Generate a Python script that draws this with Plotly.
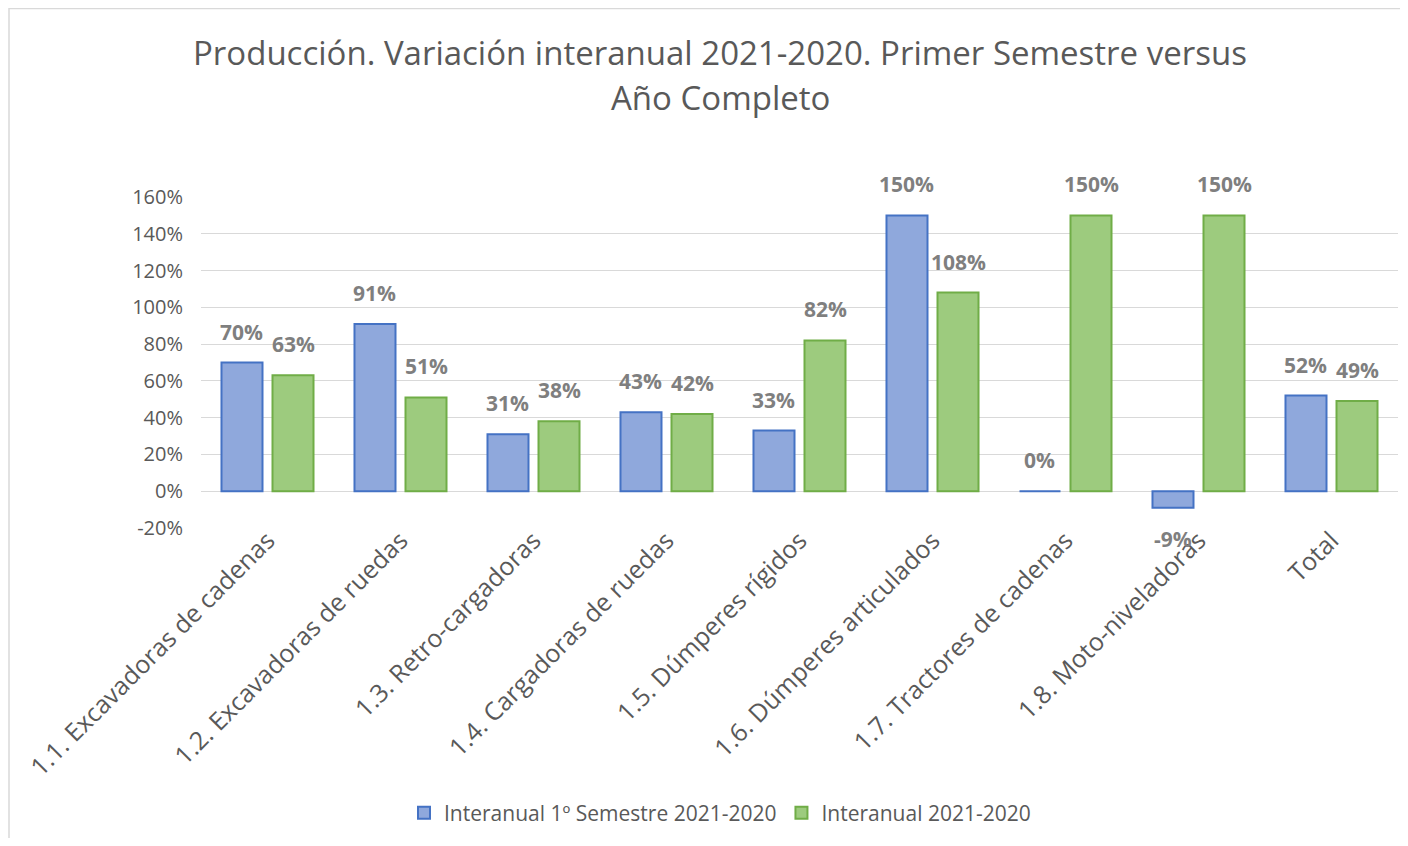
import plotly.graph_objects as go

categories = [
    "1.1. Excavadoras de cadenas",
    "1.2. Excavadoras de ruedas",
    "1.3. Retro-cargadoras",
    "1.4. Cargadoras de ruedas",
    "1.5. Dúmperes rígidos",
    "1.6. Dúmperes articulados",
    "1.7. Tractores de cadenas",
    "1.8. Moto-niveladoras",
    "Total",
]
semestre = [70, 91, 31, 43, 33, 150, 0, -9, 52]
anual = [63, 51, 38, 42, 82, 108, 150, 150, 49]
tick_vals = [-20, 0, 20, 40, 60, 80, 100, 120, 140, 160]
tick_text = [f"{v}%" for v in tick_vals]

FONT = "Open Sans, sans-serif"
GREY = "#595959"
LABEL_GREY = "#7F7F7F"

# page has an 8px body margin, so the figure is 16px smaller than the window
W, H = 1392, 830
L, T, R, B = 193, 189, 2, 310
pw, ph = W - L - R, H - T - B


def px_x(x):
    return (x - L) / pw


def px_y(y):
    return (H - B - y) / ph


fig = go.Figure()
fig.add_trace(go.Bar(
    x=categories, y=semestre, name="Interanual 1º Semestre 2021-2020",
    marker=dict(color="#8FA8DC", line=dict(color="#4472C4", width=2)),
))
fig.add_trace(go.Bar(
    x=categories, y=anual, name="Interanual 2021-2020",
    marker=dict(color="#9DCB7E", line=dict(color="#70AD47", width=2)),
))

bargap = 0.233
slot_px = pw / len(categories) * (1 - bargap) / 2

# data labels, placed like Excel's (a bit further from the bar end)
labels = []
for values, shift in ((semestre, -slot_px / 2), (anual, slot_px / 2)):
    for cat, v in zip(categories, values):
        labels.append(dict(
            x=cat, y=v, text=f"{v}%", showarrow=False,
            xshift=shift, yshift=15 if v >= 0 else -15,
            yanchor="bottom" if v >= 0 else "top",
            font=dict(family=FONT, size=21, color=LABEL_GREY, weight="bold"),
        ))

title_x = px_x(712)
labels += [
    dict(text="Producción. Variación interanual 2021-2020. Primer Semestre versus",
         xref="paper", yref="paper", x=title_x, y=px_y(44),
         xanchor="center", yanchor="middle", showarrow=False,
         font=dict(size=33, color=GREY, family=FONT)),
    dict(text="Año Completo",
         xref="paper", yref="paper", x=title_x, y=px_y(90),
         xanchor="center", yanchor="middle", showarrow=False,
         font=dict(size=33, color=GREY, family=FONT)),
]

fig.update_layout(
    width=W, height=H,
    margin=dict(l=L, r=R, t=T, b=B),
    paper_bgcolor="white", plot_bgcolor="white",
    font=dict(family=FONT, color=GREY),
    barmode="group", bargap=bargap, bargroupgap=0.196,
    showlegend=True,
    legend=dict(
        orientation="h", x=px_x(712), xanchor="center", y=px_y(805), yanchor="middle",
        font=dict(size=21, color=GREY), traceorder="normal",
    ),
    annotations=labels,
    shapes=[
        dict(type="rect", xref="paper", yref="paper",
             x0=px_x(1), x1=px_x(1420), y0=px_y(900), y1=px_y(0.5),
             line=dict(color="#D9D9D9", width=1.5), layer="below"),
    ],
)
fig.update_yaxes(
    range=[-20, 160], tickvals=tick_vals, ticktext=tick_text,
    showgrid=True, gridcolor="#D9D9D9", gridwidth=1,
    zeroline=True, zerolinecolor="#D9D9D9", zerolinewidth=1,
    tickfont=dict(size=20, color=GREY), ticks="", showline=False,
    ticklabelstandoff=17, automargin=False,
)
fig.update_xaxes(
    tickangle=-45, tickfont=dict(size=25, color=GREY), ticks="",
    showline=False, automargin=False, ticklabelstandoff=-8,
)

fig.write_html("out.html")
